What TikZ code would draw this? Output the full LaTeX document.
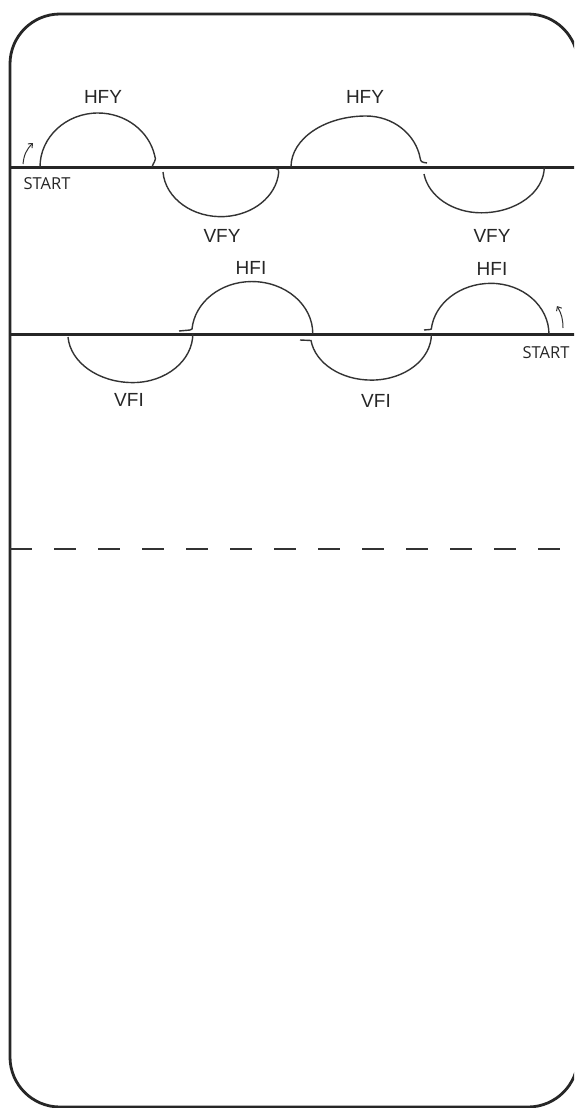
\documentclass[tikz,border=0pt]{standalone}
\usepackage{fontspec}
\setmainfont{Liberation Sans}
\newfontfamily\startfont{Open Sans}
\usetikzlibrary{arrows.meta}
\begin{document}
\begin{tikzpicture}[x=1pt,y=1pt,
  frame/.style={line width=2.8pt, draw=black!85},
  courtline/.style={line width=3pt, draw=black!85},
  dashline/.style={line width=2.8pt, draw=black!80, dash pattern=on 22pt off 22pt},
  wave/.style={line width=1.4pt, draw=black!80},
  lbl/.style={font=\fontsize{19}{19}\selectfont, inner sep=0pt, text=black!85},
  startlbl/.style={font=\startfont\fontsize{16.5}{16.5}\selectfont, inner sep=0pt, text=black!85},
  turnarrow/.style={line width=1pt, draw=black!80, -{Straight Barb[length=3.5pt,width=6pt]}}
]
\useasboundingbox (0,0) rectangle (574,-1108);
\clip (0,0) rectangle (574,-1108);
% outer frame
\draw[frame, rounded corners=50pt] (10,-14) rectangle (578,-1107);
% main lines
\draw[courtline] (10,-167) -- (580,-167);
\draw[courtline] (10,-334) -- (580,-334);
\draw[dashline] (10,-549) -- (580,-549);

% ---- row 1 ----
\draw[wave] (40,-167) arc[start angle=180,end angle=12,x radius=58,y radius=54]
  .. controls (157,-160) and (153,-163) .. (152,-167);
\draw[wave] (163,-172) arc[start angle=184,end angle=355,x radius=58,y radius=48]
  .. controls (279,-170) .. (275,-168);
\draw[wave] (291,-167) arc[start angle=180,end angle=90,x radius=75,y radius=51]
  arc[start angle=90,end angle=10,x radius=55,y radius=51]
  .. controls (421,-162) .. (427,-163);
\draw[wave] (424,-174) arc[start angle=189,end angle=270,x radius=58,y radius=46]
  arc[start angle=270,end angle=360,x radius=63,y radius=46];

% ---- row 2 ----
\draw[wave] (68,-337) arc[start angle=184,end angle=270,x radius=65,y radius=49]
  arc[start angle=270,end angle=360,x radius=60,y radius=49];
\draw[wave] (179,-331) -- (190,-330) -- (192,-329)
  arc[start angle=175,end angle=90,x radius=60,y radius=52]
  arc[start angle=90,end angle=0,x radius=61,y radius=52];
\draw[wave] (300,-340) -- (311,-340.5)
  arc[start angle=188,end angle=270,x radius=61,y radius=46]
  arc[start angle=270,end angle=360,x radius=60,y radius=46];
\draw[wave] (424,-330) -- (430,-329.5) -- (431.3,-329)
  arc[start angle=174,end angle=90,x radius=60,y radius=51]
  arc[start angle=90,end angle=0,x radius=58,y radius=51];

% labels
\node[lbl] (hfy1) at (103,-97) {HFY};
\node[lbl] (hfy2) at (365,-97) {HFY};
\node[lbl] (vfy1) at (222,-236) {VFY};
\node[lbl] (vfy2) at (492,-236) {VFY};
\node[lbl] (hfi1) at (251,-268) {HFI};
\node[lbl] (hfi2) at (492,-269) {HFI};
\node[lbl] (vfi1) at (129,-400) {VFI};
\node[lbl] (vfi2) at (376,-401) {VFI};
\node[startlbl] (start1) at (47,-184) {START};
\node[startlbl] (start2) at (546,-353) {START};

% start arrows
\coordinate (a1s) at (23,-164);
\coordinate (a1e) at (33,-143);
\coordinate (a2s) at (563,-328);
\coordinate (a2e) at (557,-306);
\draw[turnarrow] (a1s) to[bend left=20] (a1e);
\draw[turnarrow] (a2s) to[bend right=15] (a2e);
\end{tikzpicture}
\end{document}
